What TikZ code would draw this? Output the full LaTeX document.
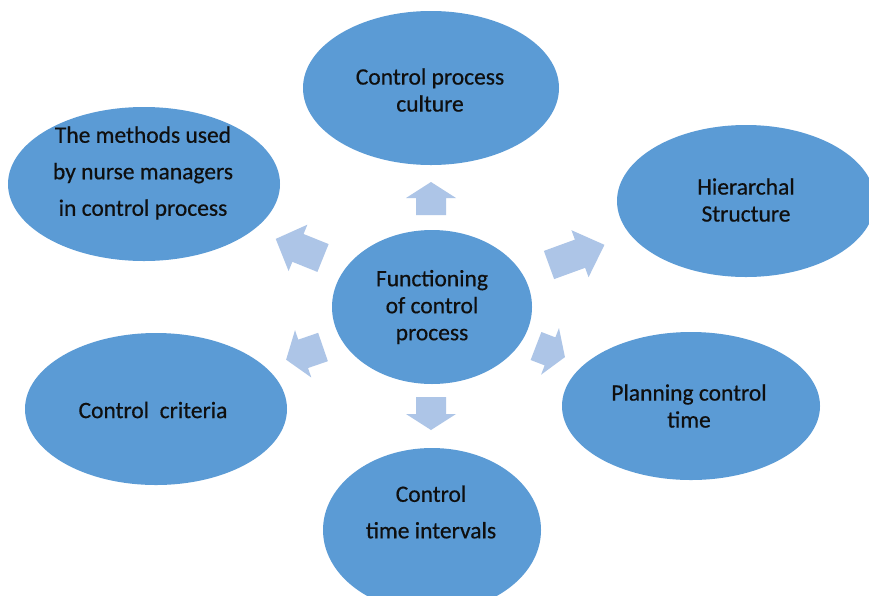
\documentclass[tikz,border=0pt]{standalone}
\usepackage{fontspec}
\setmainfont{Carlito}[FakeBold=0.5]
\usetikzlibrary{shapes.geometric}
\definecolor{bubblue}{RGB}{91,155,213}
\definecolor{arrblue}{RGB}{173,197,231}
\definecolor{txtblack}{RGB}{15,15,15}
% block arrow: base centre x, y, angle, length, head length
\newcommand{\blockarr}[5]{%
  \fill[arrblue, shift={(#1,#2)}, rotate=#3]
    (0,15) -- ({#4-#5},15) -- ({#4-#5},25) -- (#4,0) -- ({#4-#5},-25) -- ({#4-#5},-15) -- (0,-15) -- cycle;}
\tikzset{
  bub/.style={ellipse, fill=bubblue, inner sep=0pt},
  lbl/.style={align=center, text=txtblack, inner sep=0pt, font=\fontsize{23.5}{27}\selectfont},
  lblwide/.style={align=center, text=txtblack, inner sep=0pt, font=\fontsize{23.5}{36.5}\selectfont}
}
\begin{document}
\begin{tikzpicture}[x=1pt, y=-1pt]
\fill[white] (0,0) rectangle (869,595);
\useasboundingbox (0,0) rectangle (869,595);

% ellipses
\node[bub, minimum width=200pt, minimum height=154pt] (center) at (432,307) {};
\node[bub, minimum width=256pt, minimum height=154pt] (culture) at (431,88) {};
\node[bub, minimum width=272pt, minimum height=154pt] (methods) at (144,184) {};
\node[bub, minimum width=258pt, minimum height=152pt] (hier) at (746,201) {};
\node[bub, minimum width=258pt, minimum height=148pt] (plan) at (691,406) {};
\node[bub, minimum width=262pt, minimum height=152pt] (crit) at (156,409) {};
\node[bub, minimum width=218pt, minimum height=164pt] (interv) at (432,530) {};

% texts
\node[lbl] (tcenter) at (432,307) {Functioning\\of control\\process};
\node[lbl] (tculture) at (430,90) {Control process\\culture};
\node[lblwide] (tmethods) at (143,173) {The methods used\\by nurse managers\\in control process};
\node[lbl] (thier) at (746,200) {Hierarchal\\Structure};
\node[lbl] (tplan) at (689,406) {Planning control\\time};
\node[lbl] (tcrit) at (153,410) {Control\ \ criteria};
\node[lblwide] (tinterv) at (431,512) {Control\\time intervals};

% block arrows
\blockarr{431}{215}{90}{33}{16}
\blockarr{431}{397}{-90}{33}{16}
\blockarr{549}{265}{20}{59}{26}
\blockarr{323}{258}{158}{51}{24}
\blockarr{323}{347}{199}{39}{18}
\blockarr{536}{346}{-21}{31}{16}
\end{tikzpicture}
\end{document}
